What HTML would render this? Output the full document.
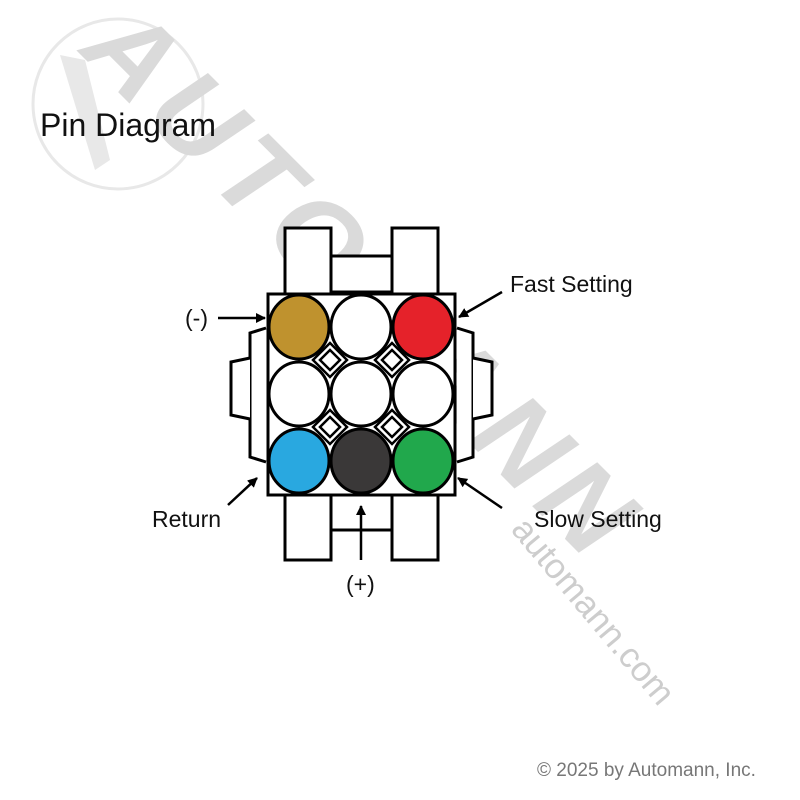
<!DOCTYPE html>
<html><head><meta charset="utf-8"><style>
body{margin:0;background:#fff}
svg{display:block}
text{font-family:"Liberation Sans",sans-serif}
</style></head><body>
<svg width="800" height="800" viewBox="0 0 800 800" xmlns="http://www.w3.org/2000/svg">
<defs><marker id="ah" markerWidth="10" markerHeight="10" refX="9" refY="5" orient="auto" markerUnits="userSpaceOnUse"><path d="M0,0 L10,5 L0,10 z" fill="#000"/></marker></defs>
<!-- watermark -->
<circle cx="118" cy="104" r="85" fill="none" stroke="#e8e8e8" stroke-width="3"/>
<path d="M60,55 L95,170 L110,160 L85,60 Z" fill="#e8e8e8"/>
<text x="0" y="0" transform="translate(78,52) rotate(45)" font-size="112" font-weight="bold" font-style="italic" fill="#dadada" letter-spacing="10">AUTOMANN</text>
<text x="0" y="0" transform="translate(510,530) rotate(50)" font-size="35" fill="#cdcdcd">automann.com</text>
<text x="40" y="136" font-size="32" fill="#111">Pin Diagram</text>
<!-- connector -->
<g fill="#fff" stroke="#000" stroke-width="3">
<rect x="285" y="228" width="46" height="66"/>
<rect x="392" y="228" width="46" height="66"/>
<rect x="331" y="256" width="61" height="36"/>
<rect x="285" y="495" width="46" height="65"/>
<rect x="392" y="495" width="46" height="65"/>
<rect x="331" y="495" width="61" height="35"/>
<path d="M266,328 L250,333 L250,457 L266,462"/>
<path d="M250,358 L231,362 L231,415 L250,419"/>
<path d="M457,328 L473,333 L473,457 L457,462"/>
<path d="M473,358 L492,362 L492,415 L473,419"/>
<rect x="268" y="294" width="187" height="201"/>
</g>
<g stroke="#000" stroke-width="2.5" fill="none">
<path d="M330,343 L347,360 L330,377 L313,360 Z"/><path d="M330,350 L340,360 L330,370 L320,360 Z"/>
<path d="M392,343 L409,360 L392,377 L375,360 Z"/><path d="M392,350 L402,360 L392,370 L382,360 Z"/>
<path d="M330,410 L347,427 L330,444 L313,427 Z"/><path d="M330,417 L340,427 L330,437 L320,427 Z"/>
<path d="M392,410 L409,427 L392,444 L375,427 Z"/><path d="M392,417 L402,427 L392,437 L382,427 Z"/>
</g>
<g stroke="#000" stroke-width="3">
<ellipse cx="299" cy="327" rx="30" ry="32" fill="#bf922e"/>
<ellipse cx="361" cy="327" rx="30" ry="32" fill="#fff"/>
<ellipse cx="423" cy="327" rx="30" ry="32" fill="#e5222a"/>
<ellipse cx="299" cy="394" rx="30" ry="32" fill="#fff"/>
<ellipse cx="361" cy="394" rx="30" ry="32" fill="#fff"/>
<ellipse cx="423" cy="394" rx="30" ry="32" fill="#fff"/>
<ellipse cx="299" cy="461" rx="30" ry="32" fill="#29a8e0"/>
<ellipse cx="361" cy="461" rx="30" ry="32" fill="#3a3838"/>
<ellipse cx="423" cy="461" rx="30" ry="32" fill="#21a84c"/>
</g>
<!-- arrows -->
<g stroke="#000" stroke-width="2.5" marker-end="url(#ah)">
<line x1="218" y1="318" x2="265" y2="318"/>
<line x1="502" y1="292" x2="459" y2="317"/>
<line x1="228" y1="505" x2="257" y2="478"/>
<line x1="502" y1="508" x2="458" y2="478"/>
<line x1="361" y1="560" x2="361" y2="506"/>
</g>
<g font-size="23" fill="#111">
<text x="185" y="326">(-)</text>
<text x="510" y="292">Fast Setting</text>
<text x="152" y="527">Return</text>
<text x="534" y="527">Slow Setting</text>
<text x="346" y="592">(+)</text>
</g>
<text x="537" y="776" font-size="19" fill="#777">© 2025 by Automann, Inc.</text>
</svg>
</body></html>
